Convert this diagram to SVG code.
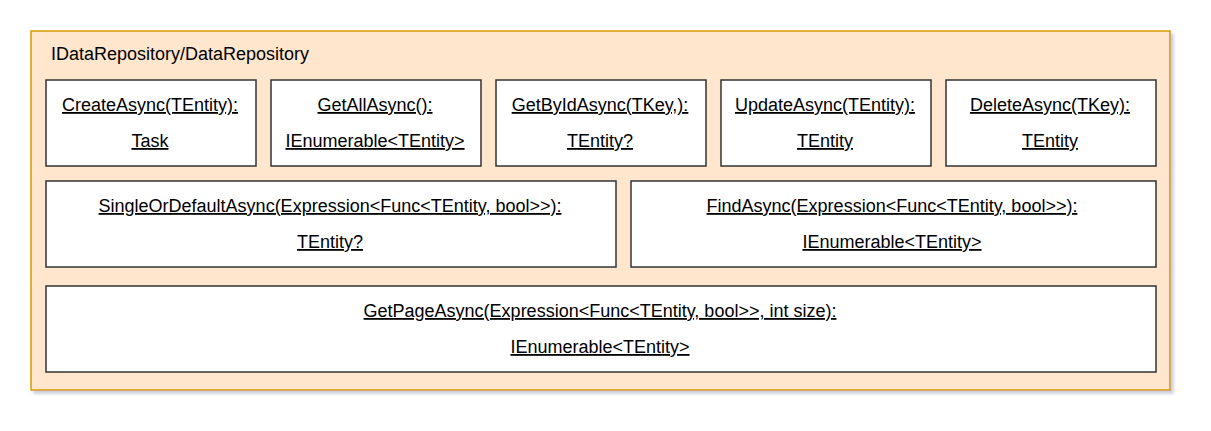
<svg xmlns="http://www.w3.org/2000/svg" width="1211" height="431" viewBox="0 0 1211 431">
<style>
.outer{fill:#ffe6cc;stroke:#d79b00;stroke-width:1.5}
.box{fill:#ffffff;stroke:#333333;stroke-width:1.5}
text{font-family:"Liberation Sans",Arial,sans-serif;font-size:18px;fill:#000000}
.m{text-anchor:middle;text-decoration:underline}
</style>
<defs>
<filter id="sh" x="-5%" y="-5%" width="110%" height="115%">
<feGaussianBlur in="SourceAlpha" stdDeviation="1.8"/>
<feOffset dx="3" dy="3" result="b"/>
<feFlood flood-color="#8a8fb0" flood-opacity="0.45"/>
<feComposite in2="b" operator="in"/>
<feMerge><feMergeNode/><feMergeNode in="SourceGraphic"/></feMerge>
</filter>
</defs>
<rect width="1211" height="431" fill="#ffffff"/>
<g id="container">
<rect class="outer" x="31" y="31" width="1139" height="359" filter="url(#sh)"/>
<text x="51" y="60">IDataRepository/DataRepository</text>
</g>
<g id="createAsync">
<rect class="box" x="46" y="80" width="210" height="86"/>
<text class="m" x="150" y="111">CreateAsync(TEntity):</text>
<text class="m" x="150" y="147">Task</text>
</g>
<g id="getAllAsync">
<rect class="box" x="271" y="80" width="210" height="86"/>
<text class="m" x="375" y="111">GetAllAsync():</text>
<text class="m" x="375" y="147">IEnumerable&lt;TEntity&gt;</text>
</g>
<g id="getByIdAsync">
<rect class="box" x="496" y="80" width="210" height="86"/>
<text class="m" x="600" y="111">GetByIdAsync(TKey,):</text>
<text class="m" x="600" y="147">TEntity?</text>
</g>
<g id="updateAsync">
<rect class="box" x="721" y="80" width="210" height="86"/>
<text class="m" x="825" y="111">UpdateAsync(TEntity):</text>
<text class="m" x="825" y="147">TEntity</text>
</g>
<g id="deleteAsync">
<rect class="box" x="946" y="80" width="210" height="86"/>
<text class="m" x="1050" y="111">DeleteAsync(TKey):</text>
<text class="m" x="1050" y="147">TEntity</text>
</g>
<g id="singleOrDefaultAsync">
<rect class="box" x="46" y="181" width="570" height="86"/>
<text class="m" x="330" y="212">SingleOrDefaultAsync(Expression&lt;Func&lt;TEntity, bool&gt;&gt;):</text>
<text class="m" x="330" y="248">TEntity?</text>
</g>
<g id="findAsync">
<rect class="box" x="631" y="181" width="525" height="86"/>
<text class="m" x="892" y="212">FindAsync(Expression&lt;Func&lt;TEntity, bool&gt;&gt;):</text>
<text class="m" x="892" y="248">IEnumerable&lt;TEntity&gt;</text>
</g>
<g id="getPageAsync">
<rect class="box" x="46" y="286" width="1110" height="86"/>
<text class="m" x="600" y="317">GetPageAsync(Expression&lt;Func&lt;TEntity, bool&gt;&gt;, int size):</text>
<text class="m" x="600" y="353">IEnumerable&lt;TEntity&gt;</text>
</g>
<g id="connectors"></g>
</svg>
